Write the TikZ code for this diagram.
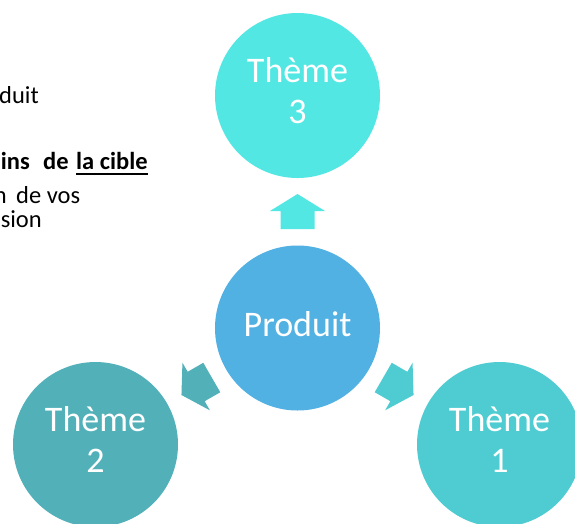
\documentclass[tikz,border=0pt]{standalone}
\usepackage{fontspec}
\setmainfont{Carlito}
\usetikzlibrary{calc}
\definecolor{cprod}{HTML}{52B1E3}
\definecolor{cthree}{HTML}{53E7E4}
\definecolor{ctwo}{HTML}{52B0B8}
\definecolor{cone}{HTML}{4FCCD1}
\tikzset{
  bubble/.style={circle, minimum size=165pt, inner sep=0pt, text=white, align=center,
    font=\fontsize{36}{41}\selectfont},
  sidetext/.style={inner sep=0pt, font=\fontsize{24.5}{25}\selectfont},
  sidebold/.style={inner sep=0pt, font=\bfseries\fontsize{24.5}{25}\selectfont},
}
\begin{document}
\begin{tikzpicture}[x=1pt,y=-1pt]
\useasboundingbox (0,0) rectangle (575,523);
% circles
\node[bubble, fill=cprod] (prod) at (297.5,328) {};
\node[bubble, fill=cthree] (t3) at (297.5,95.5) {};
\node[bubble, fill=ctwo] (t2) at (95.5,444.5) {};
\node[bubble, fill=cone] (t1) at (499.5,444.5) {};
\node[bubble, yshift=4pt] (prodlabel) at (prod.center) {Produit};
\node[bubble, yshift=5pt] (t3label) at (t3.center) {Thème\\3};
\node[bubble, yshift=5pt] (t2label) at (t2.center) {Thème\\2};
\node[bubble, yshift=5pt] (t1label) at (t1.center) {Thème\\1};
% block arrows
\foreach \ang/\col in {0/cthree,120/ctwo,-120/cone}{
  \begin{scope}[shift={(prod.center)}, rotate=\ang]
    \fill[\col] (0,-134) -- (27.5,-117) -- (17,-117) -- (17,-99) -- (-17,-99) -- (-17,-117) -- (-27.5,-117) -- cycle;
  \end{scope}
}
% clipped side text
\node[sidetext, anchor=base east] (s1) at (39,103) {duit};
\node[sidebold, anchor=base east] (s2a) at (30,169) {oins};
\node[sidebold, anchor=base west] (s2b) at (43,169) {de};
\node[sidebold, anchor=base west] (s2c) at (76,169) {la cible};
\draw[line width=2.5pt] ([yshift=-5pt]s2c.base west) -- ([yshift=-5pt]s2c.base east);
\node[sidetext, anchor=base east] (s3a) at (7,203) {n};
\node[sidetext, anchor=base west] (s3b) at (16,203) {de vos};
\node[sidetext, anchor=base east] (s4) at (42,227) {sion};
\end{tikzpicture}
\end{document}
